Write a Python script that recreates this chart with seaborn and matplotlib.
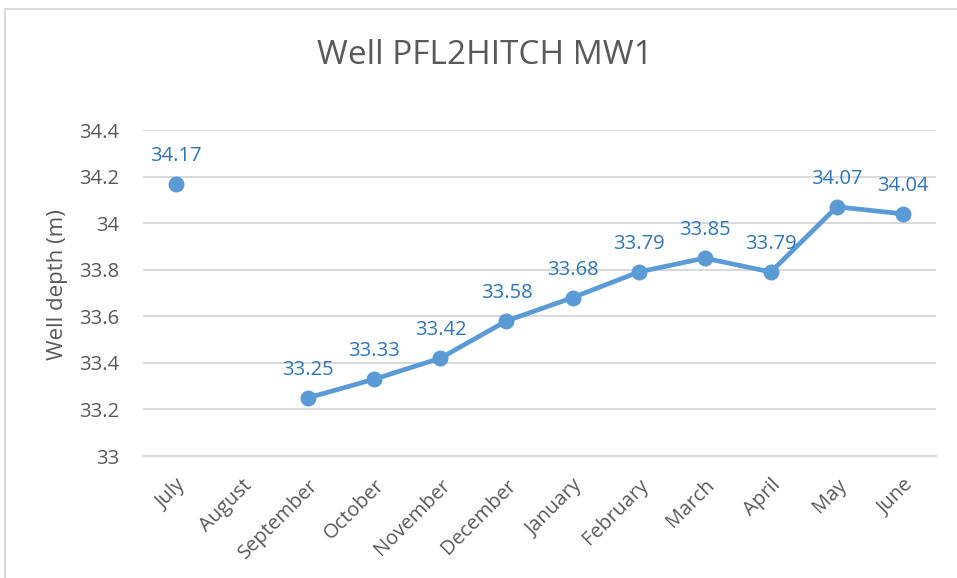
import numpy as np
import pandas as pd
import seaborn as sns
import matplotlib.pyplot as plt
from matplotlib.lines import Line2D

months = ["July", "August", "September", "October", "November", "December",
          "January", "February", "March", "April", "May", "June"]
depth = [34.17, np.nan, 33.25, 33.33, 33.42, 33.58, 33.68, 33.79, 33.85, 33.79, 34.07, 34.04]
yticks = [33, 33.2, 33.4, 33.6, 33.8, 34, 34.2, 34.4]
ytick_labels = ["33", "33.2", "33.4", "33.6", "33.8", "34", "34.2", "34.4"]

line_color = "#5B9BD5"
label_color = "#2E75B6"
text_color = "#595959"
grid_color = "#D9D9D9"

sns.set_style("white")
plt.rcParams['font.family'] = ['Open Sans', 'DejaVu Sans']

df = pd.DataFrame({"pos": np.arange(len(months)), "month": months, "depth": depth})
# the gap in August splits the series into separate runs
df["run"] = df["depth"].isna().cumsum()
df = df.dropna()

fig = plt.figure(figsize=(9.57, 5.78), dpi=100)
ax = fig.add_axes([143 / 957, 1 - 456 / 578, (936 - 143) / 957, (456 - 130) / 578])

sns.lineplot(data=df, x="pos", y="depth", units="run", estimator=None,
             color=line_color, linewidth=3.4, marker="o", markersize=11.5,
             markeredgewidth=0, ax=ax, legend=False)

for _, r in df.iterrows():
    ax.annotate(f"{r['depth']:.2f}", (r["pos"], r["depth"]), xytext=(0, 13),
                textcoords="offset points", ha="center", va="bottom",
                color=label_color, fontsize=14.5)

ax.set_xlim(-0.5, len(months) - 0.5)
ax.set_ylim(33, 34.4)
ax.set_yticks(yticks)
ax.set_yticklabels(ytick_labels)
ax.set_xticks(np.arange(len(months)))
ax.set_xticklabels(months, rotation=45, ha="right", rotation_mode="anchor")
ax.set_xticks(np.arange(len(months) + 1) - 0.5, minor=True)
ax.tick_params(axis="x", which="major", length=0, pad=14, labelsize=14.5, labelcolor=text_color)
ax.tick_params(axis="x", which="minor", length=7, width=1.5, color=grid_color)
ax.tick_params(axis="y", length=0, pad=17, labelsize=14.5, labelcolor=text_color)

ax.yaxis.grid(True, color=grid_color, linewidth=1.5)
ax.set_axisbelow(True)
for side in ["top", "right", "left"]:
    ax.spines[side].set_visible(False)
ax.spines["bottom"].set_color(grid_color)
ax.spines["bottom"].set_linewidth(1.5)

ax.set_xlabel("")
ax.set_ylabel("Well depth (m)", fontsize=16, color=text_color, va="center")
ax.yaxis.set_label_coords(-0.108, 0.525)
fig.text(485 / 957, 1 - 55 / 578, "Well PFL2HITCH MW1", ha="center", va="center",
         fontsize=24, color=text_color)

# chart frame (only left and top edges are visible in the crop)
fig.add_artist(Line2D([4.5 / 957, 4.5 / 957], [0, 1 - 8.5 / 578], transform=fig.transFigure,
                      color=grid_color, linewidth=1.5))
fig.add_artist(Line2D([4.5 / 957, 1], [1 - 8.5 / 578, 1 - 8.5 / 578], transform=fig.transFigure,
                      color=grid_color, linewidth=1.5))

fig.savefig("out.png", dpi=100)
